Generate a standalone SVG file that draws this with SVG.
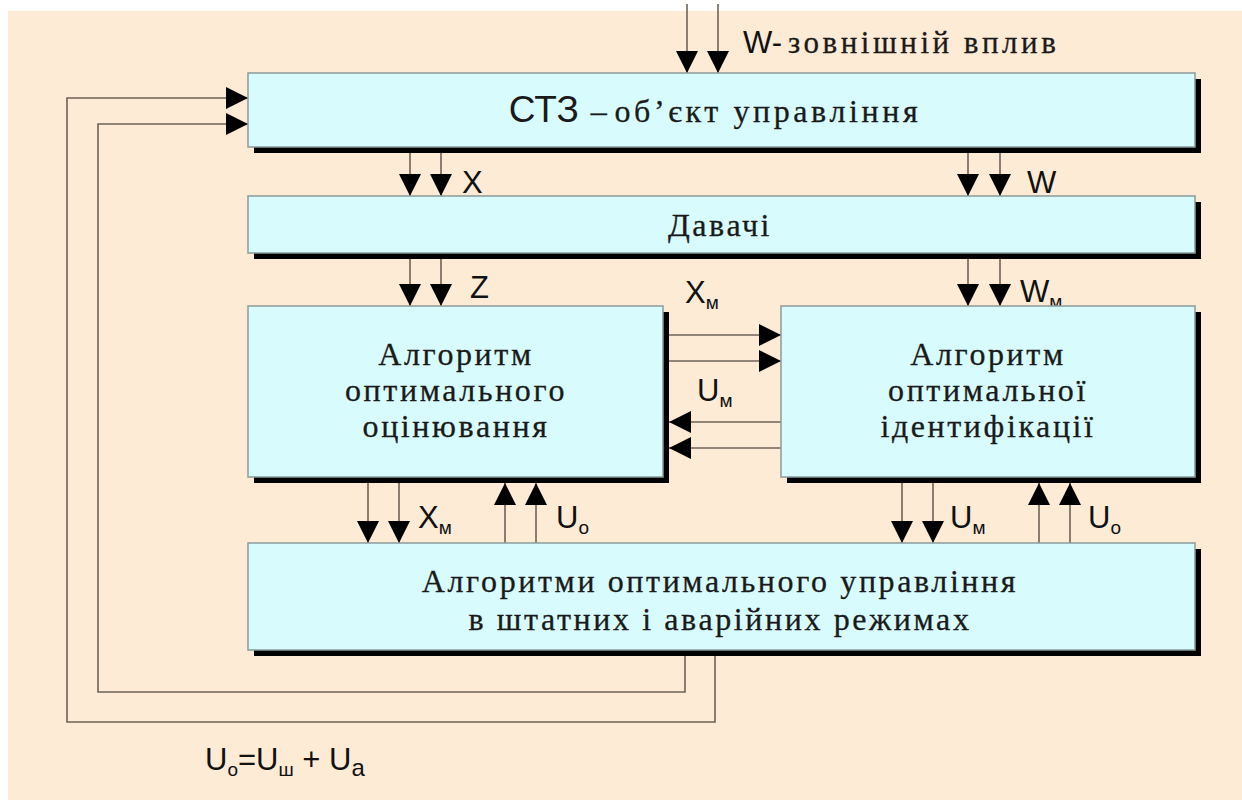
<svg xmlns="http://www.w3.org/2000/svg" width="1242" height="800" viewBox="0 0 1242 800">
<defs>
<style>
.bg{fill:#FEEBD6}
.box{fill:#D8FCFE;stroke:#8A9A9A;stroke-width:1.5}
.sh{fill:#000}
.ln{fill:none;stroke:#6E6256;stroke-width:1.6}
.ser{font-family:"Liberation Serif","Times New Roman","DejaVu Serif",serif;font-size:32px;fill:#1a1a1a;text-anchor:middle;letter-spacing:2.6px;stroke:#1a1a1a;stroke-width:0.3}
.san{font-family:"Liberation Sans",Arial,sans-serif;font-size:31px;fill:#111}
.sub{font-size:19px}
</style>
<marker id="ah" markerUnits="userSpaceOnUse" markerWidth="22" markerHeight="22" viewBox="0 0 22 22" refX="22" refY="11" orient="auto">
<path d="M0,0 L22,11 L0,22 Z" fill="#000"/>
</marker>
</defs>
<rect x="0" y="0" width="1242" height="800" fill="#fff"/>
<rect class="bg" x="8" y="11" width="1234" height="789"/>

<g id="connectors">
<path class="ln" d="M687,4 V73" marker-end="url(#ah)"/>
<path class="ln" d="M718,4 V73" marker-end="url(#ah)"/>
<path class="ln" d="M410,153 V196" marker-end="url(#ah)"/>
<path class="ln" d="M441,153 V196" marker-end="url(#ah)"/>
<path class="ln" d="M968,153 V196" marker-end="url(#ah)"/>
<path class="ln" d="M1000,153 V196" marker-end="url(#ah)"/>
<path class="ln" d="M410,259 V306" marker-end="url(#ah)"/>
<path class="ln" d="M441,259 V306" marker-end="url(#ah)"/>
<path class="ln" d="M968,259 V306" marker-end="url(#ah)"/>
<path class="ln" d="M1000,259 V306" marker-end="url(#ah)"/>
<path class="ln" d="M669,335 H781" marker-end="url(#ah)"/>
<path class="ln" d="M669,361 H781" marker-end="url(#ah)"/>
<path class="ln" d="M781,422 H669" marker-end="url(#ah)"/>
<path class="ln" d="M781,448 H669" marker-end="url(#ah)"/>
<path class="ln" d="M368,483 V543" marker-end="url(#ah)"/>
<path class="ln" d="M399,483 V543" marker-end="url(#ah)"/>
<path class="ln" d="M505,543 V483" marker-end="url(#ah)"/>
<path class="ln" d="M536,543 V483" marker-end="url(#ah)"/>
<path class="ln" d="M902,483 V543" marker-end="url(#ah)"/>
<path class="ln" d="M933,483 V543" marker-end="url(#ah)"/>
<path class="ln" d="M1039,543 V483" marker-end="url(#ah)"/>
<path class="ln" d="M1070,543 V483" marker-end="url(#ah)"/>
<path class="ln" d="M685,656 V692 H98 V124 H248" marker-end="url(#ah)"/>
<path class="ln" d="M715,656 V722 H67 V98 H248" marker-end="url(#ah)"/>
</g>

<g id="labels" class="san">
<text x="743" y="53">W-<tspan class="ser" style="font-size:31px;letter-spacing:3.5px;text-anchor:start" dx="6">зовнішній вплив</tspan></text>
<text x="462" y="193">X</text>
<text x="1027" y="193">W</text>
<text x="470" y="298">Z</text>
<text x="1020" y="302">W<tspan class="sub" dy="6">м</tspan></text>
<text x="685" y="303">X<tspan class="sub" dy="6">м</tspan></text>
<text x="697" y="401">U<tspan class="sub" dy="6">м</tspan></text>
<text x="418" y="528">X<tspan class="sub" dy="6">м</tspan></text>
<text x="556" y="528">U<tspan class="sub" dy="6">о</tspan></text>
<text x="950" y="528">U<tspan class="sub" dy="6">м</tspan></text>
<text x="1088" y="528">U<tspan class="sub" dy="6">о</tspan></text>
<text x="205" y="770">U<tspan class="sub" dy="6">о</tspan><tspan dy="-6">=U</tspan><tspan class="sub" dy="6">ш</tspan><tspan dy="-6"> + U</tspan><tspan class="sub" dy="6" style="font-size:24px">a</tspan></text>
</g>

<g id="node-stz">
<rect class="sh" x="254" y="79" width="947" height="74"/>
<rect class="box" x="248" y="73" width="947" height="74"/>
<text x="715" y="122" class="ser" style="letter-spacing:3.6px"><tspan style="font-family:'Liberation Sans',Arial,sans-serif;font-size:37px;letter-spacing:0;stroke-width:0">СТЗ</tspan><tspan dx="12">–</tspan><tspan dx="4">об’єкт управління</tspan></text>
</g>

<g id="node-davachi">
<rect class="sh" x="254" y="202" width="947" height="57"/>
<rect class="box" x="248" y="196" width="947" height="57"/>
<text x="720" y="236" class="ser">Давачі</text>
</g>

<g id="node-estimation">
<rect class="sh" x="254" y="312" width="415" height="171"/>
<rect class="box" x="248" y="306" width="415" height="171"/>
<text class="ser" x="456" y="365">Алгоритм</text>
<text class="ser" x="456" y="401">оптимального</text>
<text class="ser" x="456" y="437">оцінювання</text>
</g>

<g id="node-identification">
<rect class="sh" x="787" y="312" width="414" height="171"/>
<rect class="box" x="781" y="306" width="414" height="171"/>
<text class="ser" x="988" y="365">Алгоритм</text>
<text class="ser" x="988" y="401">оптимальної</text>
<text class="ser" x="988" y="437">ідентифікації</text>
</g>

<g id="node-control">
<rect class="sh" x="254" y="549" width="947" height="107"/>
<rect class="box" x="248" y="543" width="947" height="107"/>
<text class="ser" x="720" y="592">Алгоритми оптимального управління</text>
<text class="ser" x="720" y="630">в штатних і аварійних режимах</text>
</g>
</svg>
